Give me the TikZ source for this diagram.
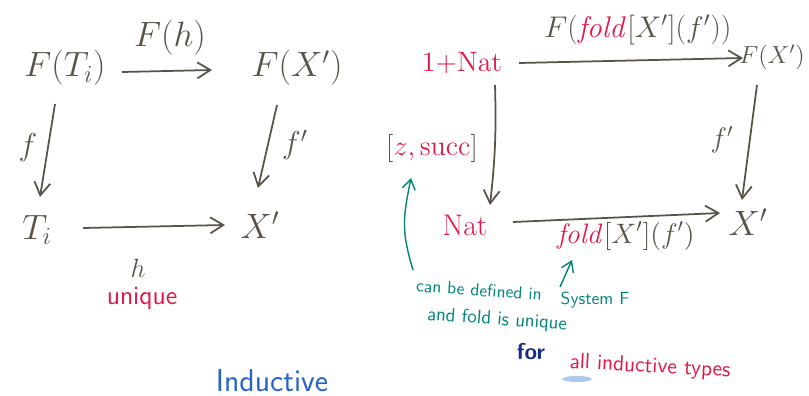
\RequirePackage{fix-cm}
\documentclass[tikz,border=0pt]{standalone}
\usepackage{xcolor}
\usepackage{tikz}
\usetikzlibrary{arrows.meta}
\definecolor{InkGray}{RGB}{88,82,72}
\definecolor{InkRed}{RGB}{228,22,72}
\definecolor{InkTeal}{RGB}{0,132,122}
\definecolor{InkNavy}{RGB}{22,44,140}
\definecolor{InkBlue}{RGB}{40,100,200}
\definecolor{InkSmudge}{RGB}{175,200,235}
\newcommand{\rd}[1]{\textcolor{InkRed}{#1}}

\begin{document}
\begin{tikzpicture}[x=0.02cm,y=-0.02cm,
        obj/.style={InkGray,inner sep=1pt,font=\fontsize{20}{24}\selectfont},
        lbl/.style={InkGray,inner sep=1pt,font=\fontsize{18}{22}\selectfont},
        note/.style={InkTeal,inner sep=0pt,font=\sffamily\fontsize{10}{12}\selectfont},
        arr/.style={-{Straight Barb[length=2.6mm,width=3.2mm]},InkGray,line width=1pt},
        hint/.style={-{Straight Barb[length=2mm,width=2.6mm]},InkTeal,line width=0.8pt}
      ]
        \useasboundingbox (0,0) rectangle (809,396);
        % left square
        \node[obj] (FT) at (65,68) {$F(T_i)$};
        \node[obj] (FX) at (297,68) {$F(X')$};
        \node[obj] (Ti) at (37,230) {$T_i$};
        \node[obj] (X1) at (260,225) {$X'$};
        \node[lbl,font=\fontsize{20}{24}\selectfont] (Fh) at (170,38) {$F(h)$};
        \node[lbl] (f) at (28,148) {$f$};
        \node[lbl] (f1) at (295,145) {$f'$};
        \node[lbl,inner sep=0pt,font=\fontsize{15}{18}\selectfont] (h) at (138,268) {$h$};
        \node[InkRed,inner sep=0pt,font=\sffamily\fontsize{15}{18}\selectfont] (uq) at (142,298) {unique};
        \draw[arr] ([shift={(57,4)}]FT.center) -- ([shift={(-85,2)}]FX.center);
        \draw[arr] ([shift={(-10,36)}]FT.center) -- ([shift={(3,-33)}]Ti.center);
        \draw[arr] ([shift={(-20,37)}]FX.center) -- ([shift={(-2,-37)}]X1.center);
        \draw[arr] ([shift={(46,-2)}]Ti.center) -- ([shift={(-35,0)}]X1.center);
        % right square
        \node[obj,font=\fontsize{16}{20}\selectfont] (one) at (462,63) {$\rd{1{+}\mathrm{Nat}}$};
        \node[obj,font=\fontsize{14}{18}\selectfont] (FX2) at (772,57) {$F(X')$};
        \node[obj,font=\fontsize{17}{20}\selectfont] (Nat) at (465,225) {$\rd{\mathrm{Nat}}$};
        \node[obj] (X2) at (748,222) {$X'$};
        \node[lbl,font=\fontsize{16}{20}\selectfont] (zs) at (432,148) {$[\rd{z,\mathrm{succ}}]$};
        \node[lbl,font=\fontsize{17}{20}\selectfont] (Ffold) at (638,30) {$F(\rd{\mathit{fold}}[X'](f'))$};
        \node[lbl,font=\fontsize{16}{20}\selectfont] (fold) at (626,236) {$\rd{\mathit{fold}}[X'](f')$};
        \node[lbl,font=\fontsize{16}{20}\selectfont] (f2) at (722,140) {$f'$};
        \draw[arr] ([shift={(57,0)}]one.center) -- ([shift={(-29,1)}]FX2.center);
        \draw[arr] ([shift={(33,22)}]one.center) to[bend left=4] ([shift={(25,-20)}]Nat.center);
        \draw[arr] ([shift={(-15,28)}]FX2.center) -- ([shift={(-6,-22)}]X2.center);
        \draw[arr] ([shift={(48,-3)}]Nat.center) -- ([shift={(-28,-9)}]X2.center);
        % notes
        \node[note,rotate=-4] (defin) at (479,290) {can be defined in};
        \node[note] (sysf) at (595,300) {System F};
        \node[note,font=\sffamily\fontsize{11}{13}\selectfont,rotate=-4] (unq) at (497,320) {and fold is unique};
        \node[InkNavy,font=\sffamily\bfseries\fontsize{13}{15}\selectfont] (for) at (531,352) {for};
        \node[InkRed,font=\sffamily\fontsize{12.5}{15}\selectfont,rotate=-3] (allind) at (650,367) {all inductive types};
        \fill[InkSmudge] (577,379) ellipse (15 and 3);
        \node[InkBlue,font=\sffamily\fontsize{18}{22}\selectfont] (ind) at (272,381) {Inductive};
        \draw[hint] ([shift={(-66,-20)}]defin.center) .. controls +(-12,-40) and +(-8,40) .. ([shift={(-21,30)}]zs.center);
        \draw[hint] ([shift={(-35,-13)}]sysf.center) -- ([shift={(-54,24)}]fold.center);
      \end{tikzpicture}
\end{document}
